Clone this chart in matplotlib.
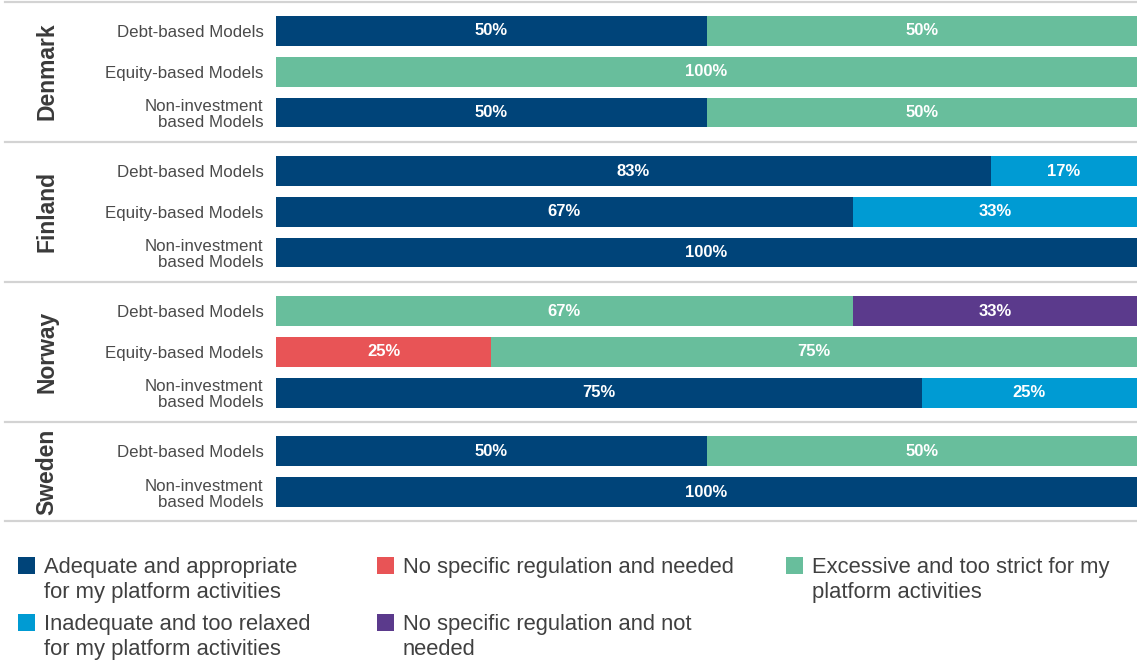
import matplotlib
matplotlib.use("Agg")
import matplotlib.pyplot as plt
from matplotlib.patches import Rectangle
import numpy as np

plt.rcParams['font.family'] = ['Liberation Sans', 'DejaVu Sans']

countries = ["Denmark", "Finland", "Norway", "Sweden"]
group_rows = [
    ["Debt-based Models", "Equity-based Models", "Non-investment\nbased Models"],
    ["Debt-based Models", "Equity-based Models", "Non-investment\nbased Models"],
    ["Debt-based Models", "Equity-based Models", "Non-investment\nbased Models"],
    ["Debt-based Models", "Non-investment\nbased Models"],
]
series_names = [
    "Adequate and appropriate\nfor my platform activities",
    "No specific regulation and needed",
    "Excessive and too strict for my\nplatform activities",
    "Inadequate and too relaxed\nfor my platform activities",
    "No specific regulation and not\nneeded",
]
colors = ["#004479", "#e85456", "#68be9c", "#009bd3", "#5b3a8c"]

# values per row (rows in order Denmark..Sweden)
adequate   = [50, 0, 50,   83, 67, 100,   0, 0, 75,    50, 100]
needed     = [0, 0, 0,     0, 0, 0,       0, 25, 0,    0, 0]
excessive  = [50, 100, 50, 0, 0, 0,       67, 75, 0,   50, 0]
inadequate = [0, 0, 0,     17, 33, 0,     0, 0, 25,    0, 0]
not_needed = [0, 0, 0,     0, 0, 0,       33, 0, 0,    0, 0]
series = [adequate, needed, excessive, inadequate, not_needed]

W, H = 1137, 662
fig = plt.figure(figsize=(W / 100, H / 100), dpi=100)
ax_left, ax_right = 276, 1137
ax_top, ax_bot = 2, 521
ax = fig.add_axes([ax_left / W, 1 - ax_bot / H, (ax_right - ax_left) / W, (ax_bot - ax_top) / H])

gap = 1.44
positions = []
group_bounds = []
p = 0.0
for gi, rows in enumerate(group_rows):
    start = p
    for r in rows:
        positions.append(p)
        p += 1
    end = p - 1
    group_bounds.append((start, end))
    p = end + gap
positions = np.array(positions)
labels = [l for rows in group_rows for l in rows]

left = np.zeros(len(positions))
for vals, col in zip(series, colors):
    vals = np.array(vals, dtype=float)
    ax.barh(positions, vals, left=left, height=0.73, color=col, linewidth=0)
    for y, l, v in zip(positions, left, vals):
        if v > 0:
            ax.text(l + v / 2, y, f"{int(v)}%", ha="center", va="center",
                    color="white", fontsize=12, fontweight="bold")
    left += vals

half = 0.71
ax.set_xlim(0, 100)
ax.set_ylim(positions[-1] + half, positions[0] - half)
ax.set_yticks(positions)
ax.set_yticklabels(labels, fontsize=12.2, color="#4a4a4a", linespacing=1.08)
ax.tick_params(axis="y", length=0, pad=9)
ax.set_xticks([])
for s in ax.spines.values():
    s.set_visible(False)

xmin_frac = (5 - ax_left) / (ax_right - ax_left)
seps = [positions[0] - half]
for (s0, e0), (s1, e1) in zip(group_bounds[:-1], group_bounds[1:]):
    seps.append((e0 + s1) / 2)
seps.append(positions[-1] + half)
for y in seps:
    ax.axhline(y, xmin=xmin_frac, xmax=1, color="#d3d3d3", linewidth=1.6, clip_on=False)

cx = (47 - ax_left) / (ax_right - ax_left)
for name, (s0, e0) in zip(countries, group_bounds):
    ax.text(cx, (s0 + e0) / 2, name, rotation=90, ha="center", va="center",
            fontsize=16.5, fontweight="bold", color="#3a3a3a",
            transform=ax.get_yaxis_transform())

# legend (manual layout)
leg_pos = [(18, 566), (377, 566), (786, 566), (18, 623), (377, 623)]
for (x, y), name, col in zip(leg_pos, series_names, colors):
    fig.patches.append(Rectangle((x / W, 1 - (y + 8) / H), 17 / W, 17 / H,
                                 transform=fig.transFigure, color=col, linewidth=0))
    fig.text((x + 26) / W, 1 - (y - 9) / H, name, ha="left", va="top",
             fontsize=15.8, color="#404040", linespacing=1.27)

fig.savefig("out.png", dpi=100)
